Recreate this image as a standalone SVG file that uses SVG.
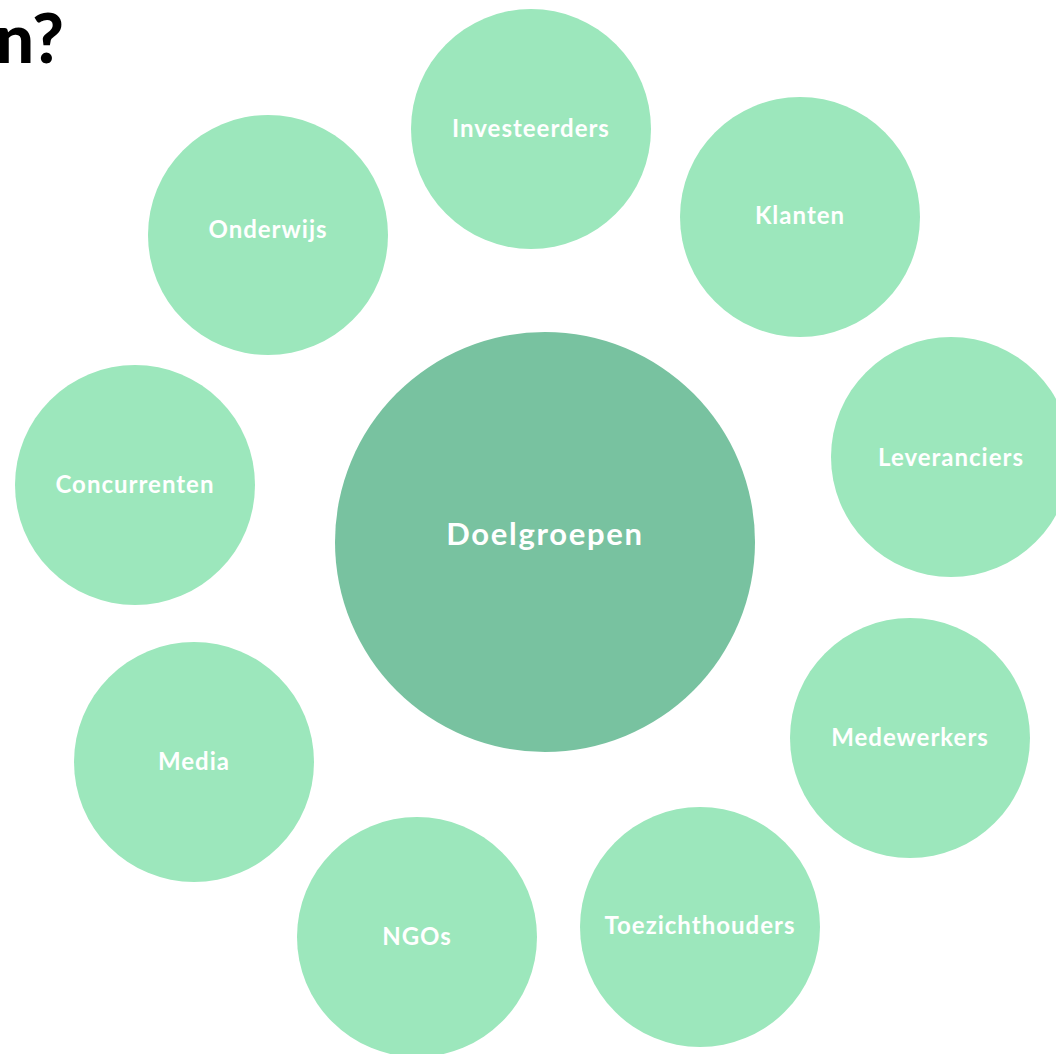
<svg xmlns="http://www.w3.org/2000/svg" width="1056" height="1054" viewBox="0 0 1056 1054">
<style>
.o{fill:#9ce7bc}
.c{fill:#78c2a0}
.t{fill:#fff;font-family:"Lato","Open Sans",sans-serif;font-weight:bold;font-size:24px;text-anchor:middle;letter-spacing:1px}
.tc{fill:#fff;font-family:"Lato","Open Sans",sans-serif;font-weight:bold;font-size:31px;text-anchor:middle;letter-spacing:1.7px}
.h{fill:#000;font-family:"Lato","Open Sans",sans-serif;font-weight:900;font-size:68px;text-anchor:end}
</style>
<rect width="1056" height="1054" fill="#fff"/>
<text class="h" x="64" y="63">n?</text>
<g id="connectors"/>
<g id="doelgroepen"><circle class="c" cx="545" cy="542" r="210"/><text class="tc" x="545" y="545">Doelgroepen</text></g>
<g id="investeerders"><circle class="o" cx="531" cy="129" r="120"/><text class="t" x="531" y="137">Investeerders</text></g>
<g id="klanten"><circle class="o" cx="800" cy="217" r="120"/><text class="t" x="800" y="224">Klanten</text></g>
<g id="leveranciers"><circle class="o" cx="951" cy="457" r="120"/><text class="t" x="951" y="466">Leveranciers</text></g>
<g id="medewerkers"><circle class="o" cx="910" cy="738" r="120"/><text class="t" x="910" y="746">Medewerkers</text></g>
<g id="toezichthouders"><circle class="o" cx="700" cy="927" r="120"/><text class="t" x="700" y="934">Toezichthouders</text></g>
<g id="ngos"><circle class="o" cx="417" cy="937" r="120"/><text class="t" x="417" y="945">NGOs</text></g>
<g id="media"><circle class="o" cx="194" cy="762" r="120"/><text class="t" x="194" y="770">Media</text></g>
<g id="concurrenten"><circle class="o" cx="135" cy="485" r="120"/><text class="t" x="135" y="493">Concurrenten</text></g>
<g id="onderwijs"><circle class="o" cx="268" cy="235" r="120"/><text class="t" x="268" y="238">Onderwijs</text></g>
</svg>
